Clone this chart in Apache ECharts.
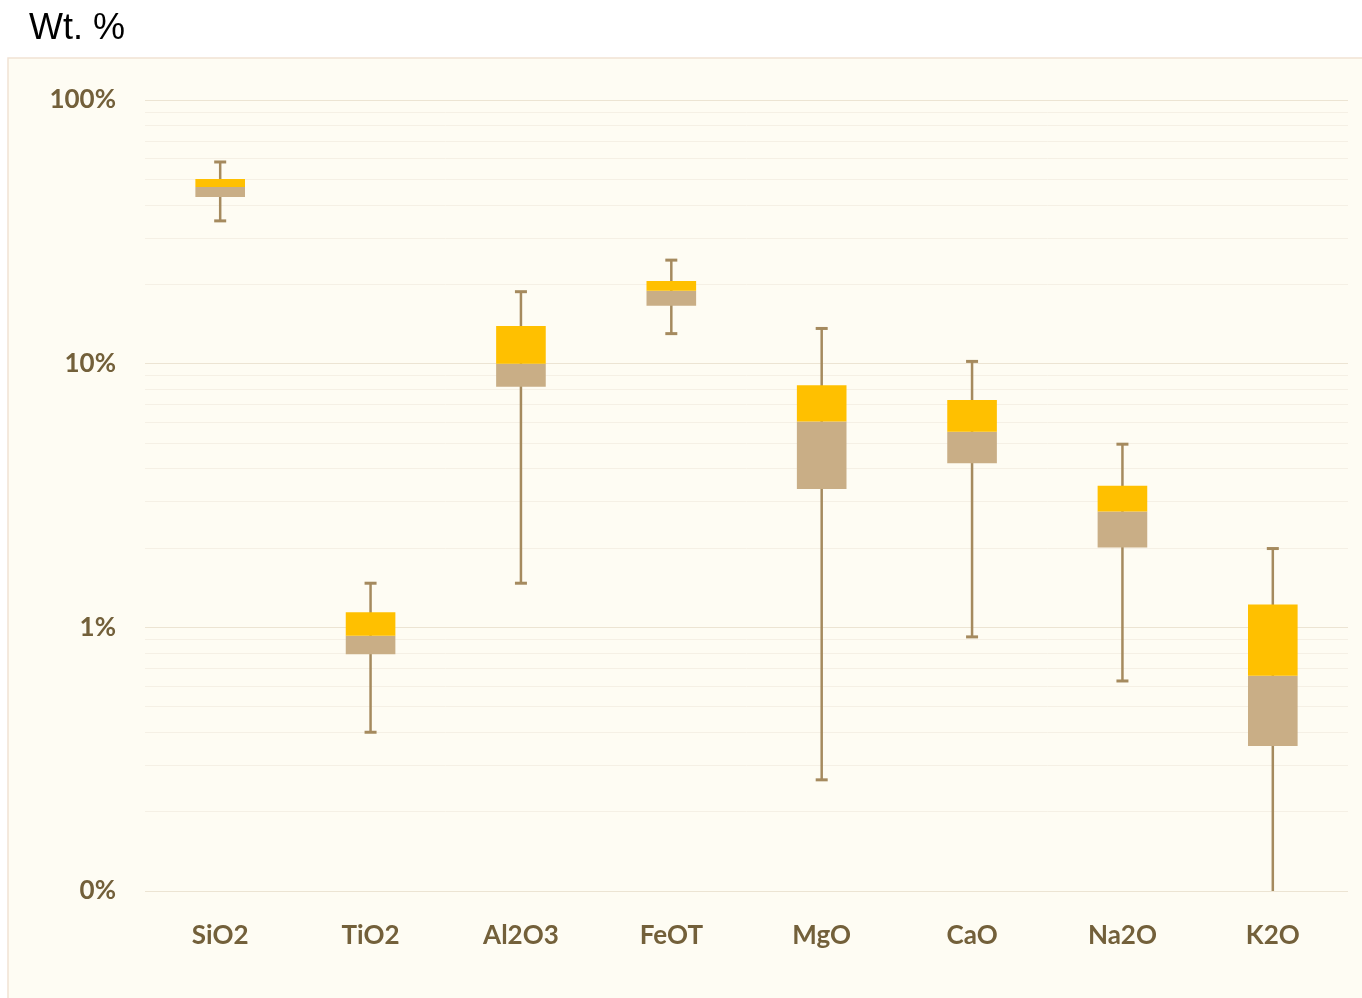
<!DOCTYPE html>
<html>
<head>
<meta charset="utf-8">
<script src="https://cdn.jsdelivr.net/npm/echarts@6/dist/echarts.min.js"></script>
<style>
  html, body { margin: 0; padding: 0; background: #ffffff; }
  #chart { width: 1362px; height: 998px; }
</style>
</head>
<body>
<div id="chart"></div>
<script>
// Major oxide distributions (wt. %), shown as min / Q1 / median / Q3 / max
const categories = ['SiO2', 'TiO2', 'Al2O3', 'FeOT', 'MgO', 'CaO', 'Na2O', 'K2O'];
const minVals = [34.8, 0.40, 1.47, 13.0, 0.264, 0.92, 0.626, 0.10];
const q1Vals  = [42.9, 0.79, 8.18, 16.6, 3.35, 4.19, 2.01, 0.355];
const medVals = [46.8, 0.93, 10.0, 18.9, 6.03, 5.52, 2.75, 0.655];
const q3Vals  = [50.2, 1.14, 13.9, 20.6, 8.28, 7.28, 3.44, 1.22];
const maxVals = [58.2, 1.47, 18.75, 24.7, 13.6, 10.2, 4.95, 1.99];
const yTicks = [0.1, 1, 10, 100];
const minorGrid = [0.2, 0.3, 0.4, 0.5, 0.6, 0.7, 0.8, 0.9,
                   2, 3, 4, 5, 6, 7, 8, 9,
                   20, 30, 40, 50, 60, 70, 80, 90];

const AXIS_MIN = yTicks[0];
const AXIS_MAX = yTicks[yTicks.length - 1];

const boxData = categories.map((c, i) =>
  [i, minVals[i], q1Vals[i], medVals[i], q3Vals[i], maxVals[i]]);

const labelColor = '#73603A';
const whiskerColor = '#A58A5E';
const upperColor = '#FFC000';
const lowerColor = '#C9AE86';

function renderBox(params, api) {
  const i = api.value(0);
  const pMin = api.coord([i, api.value(1)]);
  const pQ1 = api.coord([i, api.value(2)]);
  const pMed = api.coord([i, api.value(3)]);
  const pQ3 = api.coord([i, api.value(4)]);
  const pMax = api.coord([i, api.value(5)]);
  const x = pMin[0];
  const bw = api.size([1, 0])[0] * 0.33;
  const cap = 6;
  const children = [
    { type: 'line', shape: { x1: x, y1: pMin[1], x2: x, y2: pMax[1] },
      style: { stroke: whiskerColor, lineWidth: 2.5 } },
    { type: 'line', shape: { x1: x - cap, y1: pMax[1], x2: x + cap, y2: pMax[1] },
      style: { stroke: whiskerColor, lineWidth: 3 } },
    { type: 'rect', shape: { x: x - bw / 2, y: pMed[1], width: bw, height: pQ1[1] - pMed[1] },
      style: { fill: lowerColor } },
    { type: 'rect', shape: { x: x - bw / 2, y: pQ3[1], width: bw, height: pMed[1] - pQ3[1] },
      style: { fill: upperColor } }
  ];
  // no lower cap when the whisker runs down to the axis floor
  if (api.value(1) > AXIS_MIN * 1.0001) {
    children.push({ type: 'line', shape: { x1: x - cap, y1: pMin[1], x2: x + cap, y2: pMin[1] },
      style: { stroke: whiskerColor, lineWidth: 3 } });
  }
  return { type: 'group', children };
}

const chart = echarts.init(document.getElementById('chart'), null, { renderer: 'canvas' });
chart.setOption({
  backgroundColor: '#ffffff',
  animation: false,
  title: {
    text: 'Wt. %',
    left: 24, top: 6,
    textStyle: { fontFamily: 'Liberation Sans, Arial, sans-serif', fontSize: 36, fontWeight: 'normal', color: '#000000' }
  },
  graphic: [{
    type: 'rect', z: -10, silent: true,
    shape: { x: 8, y: 58, width: 1360, height: 946 },
    style: { fill: '#FEFCF3', stroke: '#F1E2D4', lineWidth: 1.5 }
  }],
  grid: { left: 145, right: 14, top: 100, bottom: 107 },
  xAxis: {
    type: 'category',
    data: categories,
    axisLine: { show: false },
    axisTick: { show: false },
    splitLine: { show: false },
    axisLabel: {
      margin: 32, color: labelColor,
      fontFamily: 'Lato, sans-serif', fontWeight: 'bold', fontSize: 26
    }
  },
  yAxis: {
    type: 'log',
    logBase: 10,
    min: AXIS_MIN,
    max: AXIS_MAX,
    axisLine: { show: false },
    axisTick: { show: false },
    splitLine: { show: true, lineStyle: { color: '#ECE4D3', width: 1.2 } },
    axisLabel: {
      margin: 29, color: labelColor,
      fontFamily: 'Lato, sans-serif', fontWeight: 'bold', fontSize: 26,
      formatter: v => Math.round(v) + '%'
    }
  },
  series: [{
    type: 'custom',
    renderItem: renderBox,
    encode: { x: 0, y: [1, 2, 3, 4, 5] },
    data: boxData,
    z: 5,
    markLine: {
      silent: true,
      symbol: 'none',
      label: { show: false },
      lineStyle: { color: '#F5F0E5', width: 1, type: 'solid' },
      data: minorGrid.map(v => ({ yAxis: v }))
    }
  }]
});
</script>
</body>
</html>
